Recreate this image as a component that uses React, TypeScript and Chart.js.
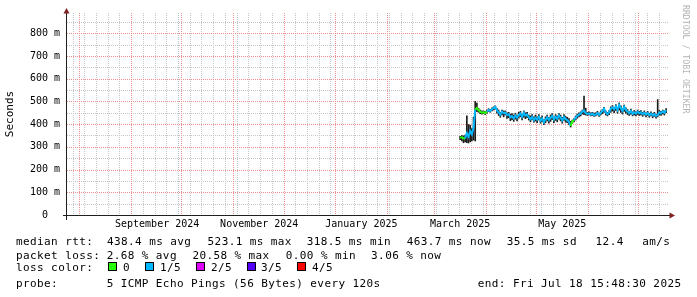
import React, { useEffect, useRef } from "react";
import { Chart, registerables } from "chart.js";

Chart.register(...registerables);

// ---- time frame ----
const END_TIME = Date.UTC(2025, 6, 18, 15, 48, 30);
const SPAN_DAYS = 359;
const DAY_MS = 86400000;
const START_TIME = END_TIME - SPAN_DAYS * DAY_MS;
const SAMPLE_START = Date.UTC(2025, 2, 16, 12); // first daily sample

// ---- x axis labels (centred in their month) ----
const xLabelNames = ["September 2024", "November 2024", "January 2025", "March 2025", "May 2025"];
const xLabelDates = ["2024-09-16T12:00:00Z", "2024-11-16T12:00:00Z", "2025-01-16T12:00:00Z", "2025-03-16T12:00:00Z", "2025-05-16T12:00:00Z"];

// ---- y axis ----
const yMajorTicks = [0, 100, 200, 300, 400, 500, 600, 700, 800];
const yMinorTicks = [50, 150, 250, 350, 450, 550, 650, 750, 850];
const Y_MAX = 889;

// ---- series: median rtt (ms), smoke low/high (ms), lost pings of 5 ----
const medianRtt = [
  340, 342, 338, 336, 360, 345, 370, 355, 385, 464,
  471, 462, 455, 450, 452, 449, 455, 462, 458, 466,
  470, 476, 460, 452, 442, 455, 448, 450, 440, 444,
  430, 435, 425, 438, 428, 440, 446, 432, 450, 438,
  442, 430, 422, 432, 418, 428, 420, 432, 415, 425,
  408, 420, 430, 418, 428, 436, 420, 432, 424, 438,
  428, 416, 432, 422, 418, 410, 392, 412, 418, 428,
  436, 442, 446, 455, 460, 448, 445, 447, 442, 446,
  440, 443, 448, 441, 450, 458, 468, 450, 444, 452,
  468, 474, 465, 478, 462, 485, 470, 458, 476, 462,
  455, 448, 458, 445, 452, 446, 455, 448, 452, 444,
  450, 442, 448, 440, 446, 438, 444, 436, 440, 452,
  448, 456, 450, 462,
];
const smokeLow = [
  332, 326, 318, 322, 318, 317, 322, 326, 330, 326,
  455, 452, 446, 444, 446, 442, 448, 455, 452, 458,
  462, 466, 448, 438, 430, 440, 432, 440, 425, 428,
  415, 420, 412, 422, 414, 426, 432, 418, 430, 424,
  428, 418, 410, 418, 408, 414, 406, 418, 404, 410,
  397, 406, 414, 404, 412, 420, 406, 416, 410, 422,
  414, 404, 416, 408, 406, 398, 387, 404, 410, 418,
  426, 432, 436, 444, 442, 440, 438, 440, 436, 438,
  434, 436, 440, 434, 440, 446, 452, 440, 436, 442,
  452, 458, 450, 460, 448, 462, 452, 444, 456, 448,
  442, 438, 444, 436, 440, 436, 442, 438, 440, 434,
  440, 432, 438, 430, 436, 428, 434, 426, 432, 440,
  438, 444, 440, 450,
];
const smokeHigh = [
  346, 350, 348, 352, 436, 398, 395, 380, 430, 500,
  493, 470, 462, 458, 458, 456, 462, 468, 465, 472,
  476, 480, 470, 462, 452, 462, 458, 458, 450, 452,
  444, 446, 440, 448, 440, 452, 456, 444, 458, 450,
  452, 440, 436, 442, 432, 440, 432, 442, 428, 436,
  420, 432, 440, 430, 440, 446, 432, 442, 436, 446,
  440, 430, 442, 434, 430, 424, 412, 418, 424, 436,
  444, 450, 454, 462, 523, 470, 452, 454, 450, 452,
  448, 450, 456, 448, 458, 464, 474, 458, 452, 460,
  476, 482, 474, 486, 472, 493, 480, 468, 484, 472,
  464, 456, 466, 454, 460, 454, 462, 456, 460, 452,
  458, 450, 456, 448, 454, 446, 452, 444, 508, 460,
  456, 462, 458, 468,
];
const lostPings = [
  0, 0, 0, 0, 1, 1, 1, 1, 1, 1,
  0, 0, 0, 0, 0, 0, 0, 1, 1, 1,
  1, 1, 1, 1, 1, 1, 1, 1, 1, 1,
  1, 1, 1, 1, 1, 1, 1, 1, 1, 1,
  1, 1, 1, 1, 1, 1, 1, 1, 1, 1,
  1, 1, 1, 1, 1, 1, 1, 1, 1, 1,
  1, 1, 1, 1, 1, 1, 1, 0, 0, 1,
  1, 1, 1, 1, 1, 1, 1, 1, 1, 1,
  1, 1, 1, 1, 1, 1, 1, 1, 1, 1,
  1, 1, 1, 1, 1, 1, 1, 1, 1, 1,
  1, 1, 1, 1, 1, 1, 1, 1, 1, 1,
  1, 1, 1, 1, 1, 1, 1, 1, 1, 1,
  1, 1, 1, 1,
];

// ---- legend ----
const lossColors = ["#26ff00", "#00b8ff", "#dd00ff", "#5500ff", "#ff0000"];
const lossLabels = ["0", "1/5", "2/5", "3/5", "4/5"];
const lossBoxX = [108, 145, 196, 247, 297];
const lossLabelX = [123, 160, 211, 261, 312];

type TextItem = { x: number; y: number; t: string };
const statItems: TextItem[] = [
  { x: 16, y: 234.7, t: "median rtt:" },
  { x: 107, y: 234.7, t: "438.4 ms avg" },
  { x: 207.6, y: 234.7, t: "523.1 ms max" },
  { x: 306.7, y: 234.7, t: "318.5 ms min" },
  { x: 406.7, y: 234.7, t: "463.7 ms now" },
  { x: 506.7, y: 234.7, t: "35.5 ms sd" },
  { x: 595.6, y: 234.7, t: "12.4" },
  { x: 642.2, y: 234.7, t: "am/s" },
  { x: 16, y: 249.2, t: "packet loss:" },
  { x: 106.7, y: 249.2, t: "2.68 % avg" },
  { x: 192.4, y: 249.2, t: "20.58 % max" },
  { x: 285.8, y: 249.2, t: "0.00 % min" },
  { x: 371.1, y: 249.2, t: "3.06 % now" },
  { x: 16, y: 261.2, t: "loss color:" },
  { x: 16, y: 277.4, t: "probe:" },
  { x: 106.7, y: 277.4, t: "5 ICMP Echo Pings (56 Bytes) every 120s" },
  { x: 477.8, y: 277.4, t: "end: Fri Jul 18 15:48:30 2025" },
];

const GRID_GRAY = "#c6c6c6";
const GRID_RED = "#ec9090";
const AXIS_COLOR = "#1f1f1f";
const ARROW_COLOR = "#801f1f";
const FONT = "'DejaVu Sans Mono', monospace";

function buildXGrid() {
  const weekly: number[] = [];
  const months: number[] = [];
  const d = new Date(START_TIME);
  let t = Date.UTC(d.getUTCFullYear(), d.getUTCMonth(), d.getUTCDate() + 1);
  while (t < END_TIME) {
    const dd = new Date(t);
    if (dd.getUTCDate() === 1) months.push(t);
    else if (dd.getUTCDay() === 0) weekly.push(t);
    t += DAY_MS;
  }
  return { weekly, months };
}

function makePlugins(weekly: number[], months: number[]) {
  const gridPlugin = {
    id: "rrdGrid",
    beforeDatasetsDraw(chart: any) {
      const { ctx, chartArea, scales } = chart;
      const { left, right, top, bottom } = chartArea;
      const xs = scales.x;
      const ys = scales.y;
      ctx.save();
      ctx.lineWidth = 1;
      ctx.setLineDash([1, 1]);
      const vline = (v: number, color: string) => {
        const px = Math.round(xs.getPixelForValue(v)) + 0.5;
        ctx.strokeStyle = color;
        ctx.beginPath();
        ctx.moveTo(px, top);
        ctx.lineTo(px, bottom);
        ctx.stroke();
      };
      const hline = (v: number, color: string) => {
        const py = Math.round(ys.getPixelForValue(v)) + 0.5;
        ctx.strokeStyle = color;
        ctx.beginPath();
        ctx.moveTo(left, py);
        ctx.lineTo(right, py);
        ctx.stroke();
      };
      yMinorTicks.forEach((v) => hline(v, GRID_GRAY));
      weekly.forEach((v) => vline(v, GRID_GRAY));
      yMajorTicks.filter((v) => v > 0).forEach((v) => hline(v, GRID_RED));
      months.forEach((v) => vline(v, GRID_RED));
      ctx.restore();
    },
  };
  const axisPlugin = {
    id: "rrdAxes",
    afterDraw(chart: any) {
      const { ctx, chartArea } = chart;
      const { left, right, top, bottom } = chartArea;
      ctx.save();
      ctx.strokeStyle = AXIS_COLOR;
      ctx.lineWidth = 1;
      ctx.beginPath();
      ctx.moveTo(left - 4, bottom + 0.5);
      ctx.lineTo(right + 2, bottom + 0.5);
      ctx.moveTo(left - 0.5, bottom + 5);
      ctx.lineTo(left - 0.5, top - 1);
      ctx.stroke();
      ctx.fillStyle = ARROW_COLOR;
      ctx.beginPath();
      ctx.moveTo(left - 0.5, top - 5);
      ctx.lineTo(left - 3.5, top + 0.5);
      ctx.lineTo(left + 2.5, top + 0.5);
      ctx.closePath();
      ctx.fill();
      ctx.beginPath();
      ctx.moveTo(right + 7, bottom + 0.5);
      ctx.lineTo(right + 1.5, bottom - 2.5);
      ctx.lineTo(right + 1.5, bottom + 3.5);
      ctx.closePath();
      ctx.fill();
      ctx.restore();
    },
  };
  return [gridPlugin, axisPlugin];
}

export default function App() {
  const canvasRef = useRef<HTMLCanvasElement | null>(null);

  useEffect(() => {
    document.body.style.margin = "0";
    const canvas = canvasRef.current;
    if (!canvas) return;
    const { weekly, months } = buildXGrid();
    const labelValues = xLabelDates.map((s) => Date.parse(s));
    const labelMap = new Map<number, string>();
    labelValues.forEach((v, i) => labelMap.set(v, xLabelNames[i]));

    const times = medianRtt.map((_, i) => SAMPLE_START + i * DAY_MS);
    const lineData = medianRtt.map((v, i) => ({ x: times[i], y: v }));
    const smokeData = smokeLow.map((lo, i) => ({ x: times[i], y: [lo, smokeHigh[i]] }));

    const chart = new Chart(canvas, {
      type: "line",
      data: {
        datasets: [
          {
            type: "line",
            label: "median rtt",
            data: lineData as any,
            borderColor: lossColors[1],
            borderWidth: 2,
            pointRadius: 0,
            tension: 0,
            segment: {
              borderColor: (c: any) => lossColors[lostPings[c.p1DataIndex]] || lossColors[1],
            },
          } as any,
          {
            type: "bar",
            label: "smoke",
            data: smokeData as any,
            backgroundColor: "#1c1c1c",
            borderWidth: 0,
            barThickness: 1,
            grouped: false,
          } as any,
        ],
      },
      options: {
        animation: false,
        responsive: false,
        maintainAspectRatio: false,
        layout: { padding: { left: 0, right: 29, top: 13, bottom: 62 } },
        plugins: { legend: { display: false }, tooltip: { enabled: false }, title: { display: false } },
        scales: {
          x: {
            type: "linear",
            offset: false,
            min: START_TIME,
            max: END_TIME,
            afterBuildTicks: (scale: any) => {
              scale.ticks = labelValues.map((v) => ({ value: v }));
            },
            afterFit: (scale: any) => {
              scale.height = 20;
            },
            grid: { display: false, drawTicks: false, offset: false },
            border: { display: false },
            ticks: {
              autoSkip: false,
              maxRotation: 0,
              minRotation: 0,
              padding: 3,
              color: "#000",
              font: { family: FONT, size: 10 },
              callback: (v: any) => labelMap.get(Number(v)) || "",
            },
          },
          y: {
            type: "linear",
            offset: false,
            min: 0,
            max: Y_MAX,
            afterBuildTicks: (scale: any) => {
              scale.ticks = yMajorTicks.map((v) => ({ value: v }));
            },
            afterFit: (scale: any) => {
              scale.width = 67;
            },
            grid: { display: false, drawTicks: false },
            border: { display: false },
            title: {
              display: true,
              text: "Seconds",
              color: "#000",
              font: { family: FONT, size: 11 },
              padding: { top: 4, bottom: 0 },
            },
            ticks: {
              autoSkip: false,
              padding: 7,
              color: "#000",
              font: { family: FONT, size: 10 },
              callback: (v: any) => {
                const n = Number(v);
                return n === 0 ? "0  " : `${n} m`;
              },
            },
          },
        },
      },
      plugins: makePlugins(weekly, months),
    } as any);
    return () => chart.destroy();
  }, []);

  const textStyle: React.CSSProperties = {
    position: "absolute",
    fontFamily: FONT,
    fontSize: "11px",
    lineHeight: "13px",
    letterSpacing: "0.4px",
    whiteSpace: "pre",
    color: "#000",
  };

  return (
    <div style={{ position: "fixed", left: 0, top: 0, width: 697, height: 297, background: "#fff", overflow: "hidden" }}>
      <canvas ref={canvasRef} width={697} height={297} style={{ position: "absolute", left: 0, top: 0 }} />
      {statItems.map((it, i) => (
        <div key={"s" + i} style={{ ...textStyle, left: it.x, top: it.y }}>
          {it.t}
        </div>
      ))}
      {lossLabels.map((lab, i) => (
        <React.Fragment key={"l" + i}>
          <div
            style={{
              position: "absolute",
              left: lossBoxX[i],
              top: 262,
              width: 7,
              height: 7,
              border: "1px solid #000",
              background: lossColors[i],
            }}
          />
          <div style={{ ...textStyle, left: lossLabelX[i], top: 261.2 }}>{lab}</div>
        </React.Fragment>
      ))}
      <div
        style={{
          position: "absolute",
          left: 681,
          top: 5,
          fontFamily: FONT,
          fontSize: "8.2px",
          lineHeight: "10px",
          color: "#b4b4b4",
          writingMode: "vertical-rl",
          whiteSpace: "pre",
        }}
      >
        RRDTOOL / TOBI OETIKER
      </div>
    </div>
  );
}
